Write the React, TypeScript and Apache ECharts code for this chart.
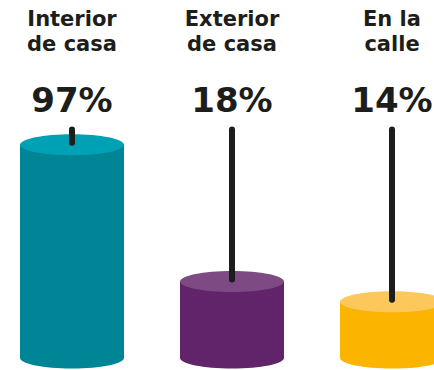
import React, { useEffect, useRef } from 'react';
import * as echarts from 'echarts';

const categories = ['Interior\nde casa', 'Exterior\nde casa', 'En la\ncalle'];
const values = [97, 18, 14];
const sideColors = ['#008596', '#612369', '#fbb500'];
const topColors = ['#00a1b5', '#7d4a84', '#fdc85b'];

const FONT = '"DejaVu Sans", sans-serif';
const INK = '#1d1d1b';

export default function App() {
  const ref = useRef<HTMLDivElement>(null);
  useEffect(() => {
    if (!ref.current) return;
    const chart = echarts.init(ref.current, null, { renderer: 'svg' });
    chart.setOption({
      animation: false,
      backgroundColor: '#ffffff',
      grid: { left: -8, right: -38, top: 142.4, bottom: 12, outerBoundsMode: 'none' },
      xAxis: {
        type: 'category',
        position: 'top',
        data: categories,
        axisLine: { show: false },
        axisTick: { show: false },
        splitLine: { show: false },
        axisLabel: {
          interval: 0,
          margin: 86,
          fontSize: 21,
          lineHeight: 25,
          fontWeight: 'bold',
          fontFamily: FONT,
          color: INK,
          align: 'center',
        },
      },
      yAxis: {
        type: 'log',
        logBase: 10,
        min: 7,
        max: 100,
        show: false,
        splitLine: { show: false },
      },
      series: [
        {
          type: 'custom',
          clip: false,
          encode: { x: 0, y: 1 },
          data: values.map((v, i) => [i, v]),
          renderItem: (params: any, api: any) => {
            const i = api.value(0);
            const v = api.value(1);
            const top = api.coord([i, v]);
            const cs = params.coordSys;
            const bottomY = cs.y + cs.height;
            const bw = cs.width / categories.length;
            const rx = bw * 0.325;
            const ry = 10.5;
            const cx = top[0];
            const topY = top[1];
            return {
              type: 'group',
              children: [
                {
                  type: 'rect',
                  shape: { x: cx - rx, y: topY, width: rx * 2, height: bottomY - topY },
                  style: { fill: sideColors[i] },
                },
                {
                  type: 'ellipse',
                  shape: { cx, cy: bottomY, rx, ry },
                  style: { fill: sideColors[i] },
                },
                {
                  type: 'ellipse',
                  shape: { cx, cy: topY, rx, ry },
                  style: { fill: topColors[i] },
                },
                {
                  type: 'line',
                  shape: { x1: cx, y1: cs.y - 13, x2: cx, y2: topY - 2 },
                  style: { stroke: INK, lineWidth: 6, lineCap: 'round' },
                },
                {
                  type: 'text',
                  style: {
                    x: cx,
                    y: cs.y - 42,
                    text: v + '%',
                    fill: INK,
                    font: 'bold 34px ' + FONT,
                    align: 'center',
                    verticalAlign: 'middle',
                  },
                },
              ],
            };
          },
        },
      ],
    });
    return () => chart.dispose();
  }, []);
  return (
    <div
      ref={ref}
      style={{ position: 'absolute', left: 0, top: 0, width: 434, height: 370 }}
    />
  );
}
